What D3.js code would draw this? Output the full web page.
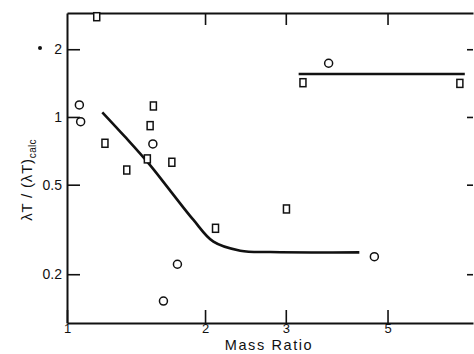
<!DOCTYPE html>
<html>
<head>
<meta charset="utf-8">
<script src="https://cdn.jsdelivr.net/npm/d3@7"></script>
<style>
  html, body { margin: 0; padding: 0; background: #fff; }
  svg { display: block; }
  text { font-family: "Liberation Sans", Arial, sans-serif; fill: #111; }
</style>
</head>
<body>
<svg id="chart" width="474" height="354"></svg>
<script>
// ---- data ----
const circleX = [1.064, 1.071, 1.539, 1.741, 1.623, 4.68, 3.72];
const circleY = [1.131, 0.953, 0.759, 0.2215, 0.152, 0.2394, 1.733];

const squareX = [1.161, 1.543, 1.518, 1.21, 1.497, 1.693, 1.35, 2.108, 3.01, 3.27, 7.19];
const squareY = [2.79, 1.119, 0.915, 0.764, 0.651, 0.629, 0.581, 0.32, 0.39, 1.42, 1.41];

const curveX = [1.194, 1.339, 1.505, 1.685, 1.887, 2.086, 2.387, 2.775, 4.34];
const curveY = [1.049, 0.815, 0.623, 0.466, 0.3485, 0.279, 0.2545, 0.251, 0.25];

const flatX = [3.20, 7.37];
const flatY = [1.553, 1.553];

const xTicks = [1, 2, 3, 5];
const xTopTicks = [2, 3, 5];
const yTicks = [0.2, 0.5, 1, 2];

const xTitle = "Mass Ratio";

// ---- scales ----
const svg = d3.select("#chart");
const mLeft = 67, mRight = 473, mTop = 13, mBottom = 323;
const x = d3.scaleLog().domain([1, 7.68]).range([mLeft, mRight]);
const y = d3.scaleLog().domain([0.1214, 2.898]).range([mBottom, mTop]);

// ---- axes ----
const gL = svg.append("g").attr("transform", `translate(${mLeft},0)`)
  .call(d3.axisLeft(y).tickValues(yTicks).tickSizeInner(-13).tickSizeOuter(0)
    .tickPadding(18).tickFormat(d => String(d)));
gL.selectAll("text").attr("font-size", 14).attr("text-anchor", "end")
  .attr("x", -5);

const gB = svg.append("g").attr("transform", `translate(0,${mBottom})`)
  .call(d3.axisBottom(x).tickValues(xTicks).tickSizeInner(-13).tickSizeOuter(0)
    .tickPadding(17).tickFormat(d => String(d)));
gB.selectAll("text").attr("font-size", 13).attr("y", 1);

const gT = svg.append("g").attr("transform", `translate(0,${mTop})`)
  .call(d3.axisTop(x).tickValues(xTopTicks).tickSizeInner(-12).tickSizeOuter(0)
    .tickFormat(() => ""));

const gR = svg.append("g").attr("transform", `translate(${mRight},0)`)
  .call(d3.axisRight(y).tickValues(yTicks).tickSizeInner(-6).tickSizeOuter(0)
    .tickFormat(() => ""));
gR.select(".domain").remove();

svg.selectAll(".domain").attr("stroke", "#111").attr("stroke-width", 2);
svg.selectAll(".tick line").attr("stroke", "#111").attr("stroke-width", 1.6);

// ---- curves ----
svg.append("path")
  .datum(d3.zip(curveX, curveY))
  .attr("d", d3.line().x(d => x(d[0])).y(d => y(d[1])).curve(d3.curveCatmullRom.alpha(0.5)))
  .attr("fill", "none").attr("stroke", "#111").attr("stroke-width", 2.6);

svg.append("path")
  .datum(d3.zip(flatX, flatY))
  .attr("d", d3.line().x(d => x(d[0])).y(d => y(d[1])))
  .attr("fill", "none").attr("stroke", "#111").attr("stroke-width", 2.4);

// ---- markers ----
svg.append("g").selectAll("circle")
  .data(d3.zip(circleX, circleY)).join("circle")
  .attr("cx", d => x(d[0])).attr("cy", d => y(d[1])).attr("r", 4)
  .attr("fill", "#fff").attr("stroke", "#111").attr("stroke-width", 1.5);

svg.append("g").selectAll("rect")
  .data(d3.zip(squareX, squareY)).join("rect")
  .attr("x", d => x(d[0]) - 3).attr("y", d => y(d[1]) - 4)
  .attr("width", 6).attr("height", 8)
  .attr("fill", "#fff").attr("stroke", "#111").attr("stroke-width", 1.5);

// ---- titles ----
svg.append("text")
  .attr("x", 269).attr("y", 350)
  .attr("text-anchor", "middle").attr("font-size", 14.5).attr("letter-spacing", 1.6)
  .text(xTitle);

const yt = svg.append("text")
  .attr("transform", "translate(32,180) rotate(-90)")
  .attr("text-anchor", "middle").attr("font-size", 15).attr("letter-spacing", 0.8);
yt.append("tspan").text("λT / (λT)");
yt.append("tspan").attr("font-size", 10).attr("dy", 4).attr("letter-spacing", 0.3).text("calc");

// stray dot left of the "2" label
svg.append("circle").attr("cx", 40).attr("cy", 48).attr("r", 2).attr("fill", "#111");
</script>
</body>
</html>
